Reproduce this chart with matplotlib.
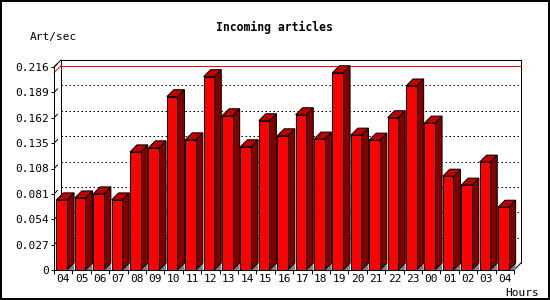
import numpy as np
import matplotlib
matplotlib.use('Agg')
import matplotlib.pyplot as plt
from matplotlib.patches import Polygon, Rectangle

plt.rcParams.update({'font.family': 'DejaVu Sans Mono', 'font.size': 8})

# data
hours = ['04', '05', '06', '07', '08', '09', '10', '11', '12', '13', '14', '15', '16',
         '17', '18', '19', '20', '21', '22', '23', '00', '01', '02', '03', '04']
art_per_sec = [0.0746, 0.0767, 0.0810, 0.0746, 0.1257, 0.1300, 0.1844, 0.1385, 0.2057,
               0.1641, 0.1311, 0.1588, 0.1428, 0.1652, 0.1393, 0.2099, 0.1435, 0.1382,
               0.1620, 0.1958, 0.1563, 0.0998, 0.0903, 0.1148, 0.0668]
yticks = [0, 0.027, 0.054, 0.081, 0.108, 0.135, 0.162, 0.189, 0.216]

W, H, DPI = 550, 300, 100
px = 0.72  # one pixel in points

fig = plt.figure(figsize=(W / DPI, H / DPI), dpi=DPI)
ax = fig.add_axes([54 / W, 30 / H, 460 / W, 203 / H])
n = len(hours)
ymax = yticks[-1]
ax.set_xlim(0, n)
ax.set_ylim(0, ymax)

# 3d depth (7 px) expressed in data units
depth = 7
dx = depth / 460 * n
dy = depth / 203 * ymax

for s in ['top', 'right']:
    ax.spines[s].set_visible(False)
for s in ['left', 'bottom']:
    ax.spines[s].set_linewidth(px)
    ax.spines[s].set_zorder(6)

ax.set_yticks(yticks)
ax.set_yticklabels(['0' if v == 0 else '%.3f' % v for v in yticks])
ax.tick_params(axis='y', length=3 * px, width=px, pad=2 * px)
ax.set_xticks(np.arange(n + 1))
ax.set_xticklabels([])
ax.tick_params(axis='x', which='major', length=4 * px, width=px)
ax.set_xticks(np.arange(n) + 0.5, minor=True)
ax.set_xticklabels(hours, minor=True)
ax.tick_params(axis='x', which='minor', length=0, pad=3)


def seg(xs, ys, **kw):
    # separate two-point segments so straight ones get pixel snapped
    ax.plot(xs, ys, lw=px, clip_on=False, zorder=1, solid_capstyle='projecting', **kw)


# back plane frame
seg([dx, dx], [dy, ymax + dy], color='black')
seg([dx, n + dx], [ymax + dy, ymax + dy], color='black')
seg([n + dx, n + dx], [dy, ymax + dy], color='black')
seg([0, dx], [ymax, ymax + dy], color='black')
seg([n, n + dx], [0, dy], color='black')
# dotted grid on back plane + small diagonal ticks
for v in yticks[1:-1]:
    seg([dx, n + dx], [v + dy, v + dy], color='black', dashes=(1.5, 2.5))
for v in yticks[1:]:
    seg([0.15 * dx, 0.5 * dx], [v + 0.15 * dy, v + 0.5 * dy], color='black')
# max line
vmax = max(art_per_sec)
seg([0, dx], [vmax, vmax + dy], color='red')
seg([dx, n + dx], [vmax + dy, vmax + dy], color='red')

# bars
bw = 0.58
off = 0.13
for i, v in enumerate(art_per_sec):
    x0 = i + off
    x1 = x0 + bw
    ax.add_patch(Polygon([(x1, 0), (x1 + dx, dy), (x1 + dx, 0)], closed=True,
                         facecolor='#808080', edgecolor='none', zorder=2, clip_on=False))
    ax.add_patch(Polygon([(x1, 0), (x1, v), (x1 + dx, v + dy), (x1 + dx, dy)], closed=True,
                         facecolor='#800000', edgecolor='black', lw=px, zorder=3, clip_on=False))
    ax.add_patch(Polygon([(x0, v), (x1, v), (x1 + dx, v + dy), (x0 + dx, v + dy)], closed=True,
                         facecolor='#c00000', edgecolor='black', lw=px, zorder=3, clip_on=False))
    ax.add_patch(Rectangle((x0, 0), bw, v, facecolor='#ff0000', edgecolor='black',
                           lw=px, zorder=4, clip_on=False))

fig.text(274 / W, 1 - 27 / H, 'Incoming articles', ha='center', va='center',
         fontsize=8.3, fontweight='bold')
fig.text(30 / W, 1 - 37 / H, 'Art/sec', ha='left', va='center')
fig.text(505 / W, 1 - 292.5 / H, 'Hours', ha='left', va='center')

fig.add_artist(Rectangle((0, 0), 1, 1, transform=fig.transFigure, fill=False,
                         edgecolor='black', lw=4 * px, clip_on=False))

fig.savefig('out.png', dpi=DPI, facecolor='white')
